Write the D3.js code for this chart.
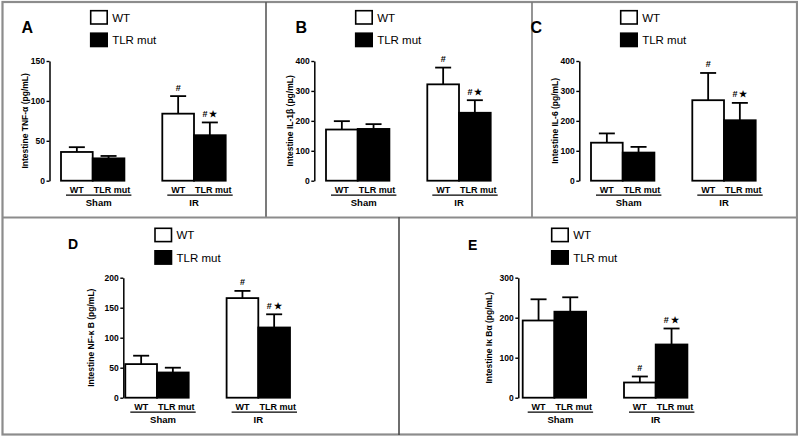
<!DOCTYPE html>
<html><head><meta charset="utf-8">
<script src="https://cdn.jsdelivr.net/npm/d3@7"></script>
<style>html,body{margin:0;padding:0;background:#fff;}svg{display:block;}</style>
</head><body><svg id="chart" width="798" height="438"></svg>
<script>
// ---- data ----
const groups = ["Sham", "IR"];
const series = ["WT", "TLR mut"];
const letters = ["A", "B", "C", "D", "E"];
const yTitles = ["Intestine TNF-\u03b1 (pg/mL)", "Intestine IL-1\u03b2  (pg/mL)", "Intestine IL-6 (pg/mL)", "Intestine NF-\u03ba B (pg/mL)", "Intestine I\u03ba B\u03b1  (pg/mL)"];
const yMax = [150, 400, 400, 200, 300];
const ticksA = [0, 50, 100, 150];
const ticksB = [0, 100, 200, 300, 400];
const ticksC = [0, 100, 200, 300, 400];
const ticksD = [0, 50, 100, 150, 200];
const ticksE = [0, 100, 200, 300];
// means [group][series]
const meanA = [[36, 28], [84, 57]];
const errA  = [[6, 3], [22, 16]];
const meanB = [[171, 173], [322, 227]];
const errB  = [[28, 16], [56, 42]];
const meanC = [[127, 94], [269, 202]];
const errC  = [[31, 19], [91, 58]];
const meanD = [[56, 42], [166, 117]];
const errD  = [[14, 8], [12, 22]];
const meanE = [[193, 215], [38, 133]];
const errE  = [[53, 36], [15, 40]];
const marksTop = [["", ""], ["#", "#\u2009\u2605"]];
const marksE = [["", ""], ["#", "# \u2605"]];

// ---- layout (positions only) ----
const layout = [
  {axisX: 49.5,  y0: 180.7, yTop: 61,    barX: 61,    legX: 90.7,  legY: 10.7,  letX: 21.5,  letY: 32.5,  letSize: 16, titleOff: 24.5},
  {axisX: 314.3, y0: 180.7, yTop: 61,    barX: 326,   legX: 355.7, legY: 10.7,  letX: 295.5, letY: 32.5,  letSize: 16, titleOff: 24.3},
  {axisX: 579.3, y0: 180.7, yTop: 61,    barX: 591,   legX: 620.7, legY: 10.7,  letX: 530.5, letY: 32.5,  letSize: 16, titleOff: 24.3},
  {axisX: 123.3, y0: 397.7, yTop: 277.7, barX: 125.3, legX: 155,   legY: 228.3, letX: 68,    letY: 248.5, letSize: 14, titleOff: 32.6},
  {axisX: 518.3, y0: 397.7, yTop: 277.7, barX: 522.7, legX: 551.7, legY: 228.3, letX: 468,   letY: 249.5, letSize: 14, titleOff: 29}
];

const panels = [
  {ticks: ticksA, mean: meanA, err: errA, marks: marksTop},
  {ticks: ticksB, mean: meanB, err: errB, marks: marksTop},
  {ticks: ticksC, mean: meanC, err: errC, marks: marksTop},
  {ticks: ticksD, mean: meanD, err: errD, marks: marksTop},
  {ticks: ticksE, mean: meanE, err: errE, marks: marksE}
];

const svg = d3.select("#chart");
const FONT = "'Liberation Sans', Arial, sans-serif";

// panel borders
const border = svg.append("g").attr("fill", "none");
border.append("rect").attr("x", 2.5).attr("y", 2).attr("width", 794.5).attr("height", 432.5)
  .attr("stroke", "#8c8c8c").attr("stroke-width", 2.2);
border.append("line").attr("x1", 266).attr("x2", 266).attr("y1", 2).attr("y2", 217).attr("stroke", "#5a5a5a").attr("stroke-width", 1.6);
border.append("line").attr("x1", 532).attr("x2", 532).attr("y1", 2).attr("y2", 217).attr("stroke", "#7a7a7a").attr("stroke-width", 1.6);
border.append("line").attr("x1", 2).attr("x2", 797).attr("y1", 217.5).attr("y2", 217.5).attr("stroke", "#8c8c8c").attr("stroke-width", 1.8);
border.append("line").attr("x1", 399).attr("x2", 399).attr("y1", 217).attr("y2", 435).attr("stroke", "#4a4a4a").attr("stroke-width", 1.6);

panels.forEach((p, i) => {
  const L = layout[i];
  const g = svg.append("g");
  const y = d3.scaleLinear().domain([0, yMax[i]]).range([L.y0, L.yTop]);
  const groupStep = 101.3, barW = 31.7;
  const xg = d3.scaleBand().domain(groups)
    .range([L.barX, L.barX + groupStep + 2 * barW])
    .paddingInner(1 - (2 * barW) / groupStep).paddingOuter(0);
  const xs = d3.scaleBand().domain(series).range([0, xg.bandwidth()]);

  // y axis
  const ax = g.append("g").attr("transform", `translate(${L.axisX},0)`)
    .call(d3.axisLeft(y).tickValues(p.ticks).tickSize(3).tickSizeOuter(0).tickPadding(1.5));
  ax.select(".domain").attr("stroke", "#000").attr("stroke-width", 1.5);
  ax.selectAll(".tick line").attr("stroke", "#000").attr("stroke-width", 1.4);
  ax.selectAll(".tick text").attr("fill", "#000").style("font", `bold 8.5px ${FONT}`);

  // y title
  g.append("text")
    .attr("transform", `translate(${L.axisX - L.titleOff},${(L.y0 + L.yTop) / 2}) rotate(-90)`)
    .attr("text-anchor", "middle").attr("dy", "0.35em")
    .style("font", `bold 8.5px ${FONT}`).text(yTitles[i]);

  // bars
  groups.forEach((gr, gi) => {
    series.forEach((s, si) => {
      const x0 = xg(gr) + xs(s), w = xs.bandwidth();
      const m = p.mean[gi][si], e = p.err[gi][si];
      const cx = x0 + w / 2;
      // error bar (upper only)
      g.append("line").attr("x1", cx).attr("x2", cx).attr("y1", y(m)).attr("y2", y(m + e))
        .attr("stroke", "#000").attr("stroke-width", 1.8);
      g.append("line").attr("x1", cx - 8).attr("x2", cx + 8).attr("y1", y(m + e)).attr("y2", y(m + e))
        .attr("stroke", "#000").attr("stroke-width", 1.8);
      g.append("rect").attr("x", x0).attr("y", y(m)).attr("width", w).attr("height", y(0) - y(m))
        .attr("fill", si === 0 ? "#fff" : "#000").attr("stroke", "#000").attr("stroke-width", 1.8);
      const mk = p.marks[gi][si];
      if (mk) {
        g.append("text").attr("x", cx).attr("y", y(m + e) - 5.5).attr("text-anchor", "middle")
          .style("font", `bold 9px ${FONT}`).text(mk);
      }
      // category label under bar
      g.append("text").attr("x", cx + (si === 1 ? 3.5 : 0)).attr("y", L.y0 + 12.3)
        .attr("text-anchor", "middle").style("font", `bold 9px ${FONT}`).text(s);
    });
    const gx0 = xg(gr), gx1 = xg(gr) + xg.bandwidth();
    g.append("line").attr("x1", gx0 + 5).attr("x2", gx1 + 7).attr("y1", L.y0 + 14.4).attr("y2", L.y0 + 14.4)
      .attr("stroke", "#000").attr("stroke-width", 1.3);
    const lx = gi === 0 ? (gx0 + 5 + gx1 + 7) / 2 : (gx0 + gx1) / 2;
    g.append("text").attr("x", lx).attr("y", L.y0 + 25)
      .attr("text-anchor", "middle").style("font", `bold 9.5px ${FONT}`).text(gr);
  });

  // legend
  series.forEach((s, si) => {
    const ly = L.legY + si * 22.5;
    g.append("rect").attr("x", L.legX).attr("y", ly).attr("width", 16.5).attr("height", 13.3)
      .attr("fill", si === 0 ? "#fff" : "#000").attr("stroke", "#000").attr("stroke-width", 1.6);
    g.append("text").attr("x", L.legX + 21.5).attr("y", ly + 6.8).attr("dy", "0.35em")
      .style("font", `11.5px ${FONT}`).text(s);
  });

  // panel letter
  g.append("text").attr("x", L.letX).attr("y", L.letY)
    .style("font", `bold ${L.letSize}px ${FONT}`).text(letters[i]);
});
</script>
</body></html>
